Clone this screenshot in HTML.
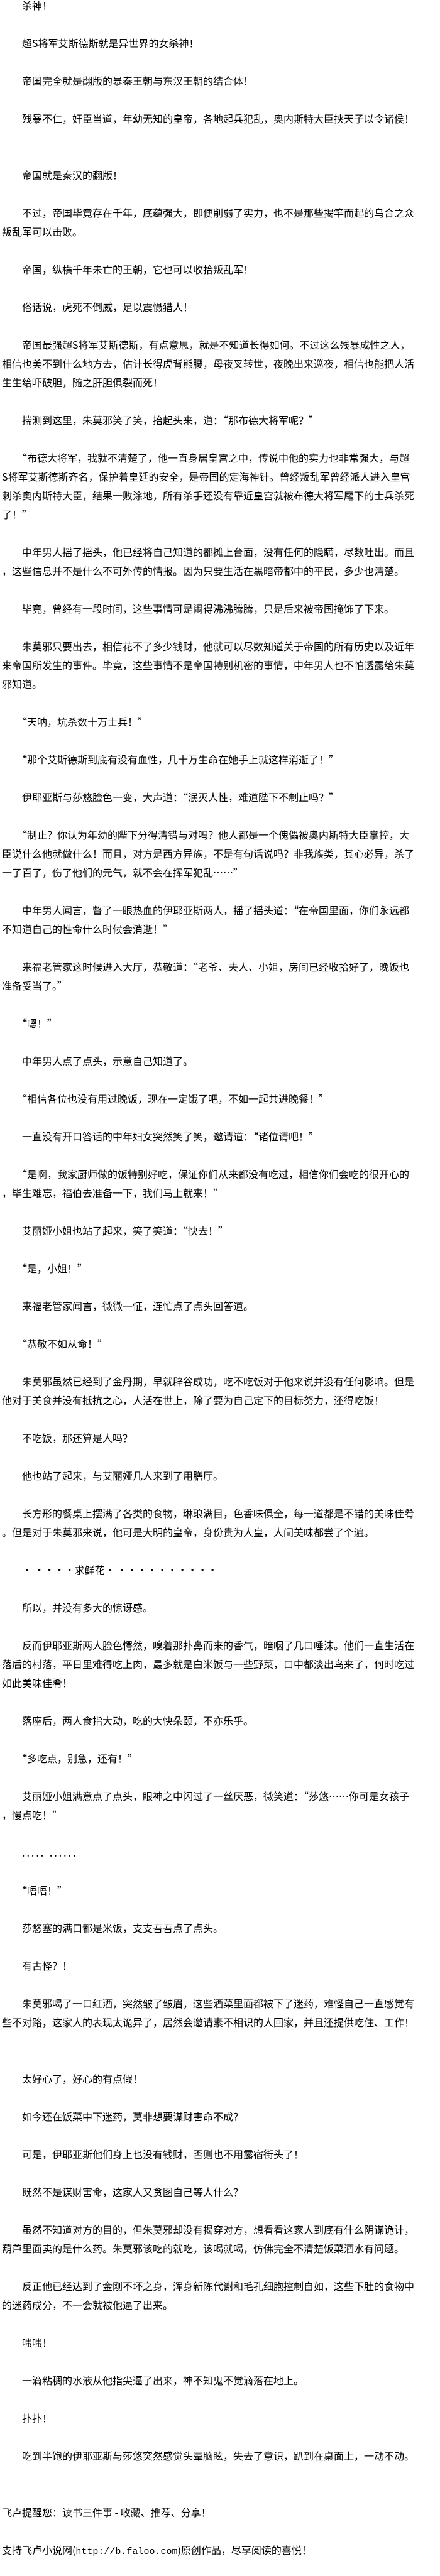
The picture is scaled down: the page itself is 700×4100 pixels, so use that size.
<!DOCTYPE html>
<html><head><meta charset="utf-8">
<style>
html,body{margin:0;padding:0;background:#fff;}
body{width:700px;height:4100px;overflow:hidden;position:relative;}
pre{position:absolute;left:3px;top:-7px;margin:0;font-family:"Noto Sans CJK SC","WenQuanYi Zen Hei",sans-serif;font-size:16px;line-height:30px;color:#000;white-space:pre;}
.m{font-family:"Liberation Mono",monospace;font-size:15px;}
</style></head><body>
<pre>　　杀神！

　　超S将军艾斯德斯就是异世界的女杀神！

　　帝国完全就是翻版的暴秦王朝与东汉王朝的结合体！

　　残暴不仁，奸臣当道，年幼无知的皇帝，各地起兵犯乱，奥内斯特大臣挟天子以令诸侯！


　　帝国就是秦汉的翻版！

　　不过，帝国毕竟存在千年，底蕴强大，即便削弱了实力，也不是那些揭竿而起的乌合之众
叛乱军可以击败。

　　帝国，纵横千年未亡的王朝，它也可以收拾叛乱军！

　　俗话说，虎死不倒威，足以震慑猎人！

　　帝国最强超S将军艾斯德斯，有点意思，就是不知道长得如何。不过这么残暴成性之人，
相信也美不到什么地方去，估计长得虎背熊腰，母夜叉转世，夜晚出来巡夜，相信也能把人活
生生给吓破胆，随之肝胆俱裂而死！

　　揣测到这里，朱莫邪笑了笑，抬起头来，道：“那布德大将军呢？”

　　“布德大将军，我就不清楚了，他一直身居皇宫之中，传说中他的实力也非常强大，与超
S将军艾斯德斯齐名，保护着皇廷的安全，是帝国的定海神针。曾经叛乱军曾经派人进入皇宫
刺杀奥内斯特大臣，结果一败涂地，所有杀手还没有靠近皇宫就被布德大将军麾下的士兵杀死
了！”

　　中年男人摇了摇头，他已经将自己知道的都摊上台面，没有任何的隐瞒，尽数吐出。而且
，这些信息并不是什么不可外传的情报。因为只要生活在黑暗帝都中的平民，多少也清楚。

　　毕竟，曾经有一段时间，这些事情可是闹得沸沸腾腾，只是后来被帝国掩饰了下来。

　　朱莫邪只要出去，相信花不了多少钱财，他就可以尽数知道关于帝国的所有历史以及近年
来帝国所发生的事件。毕竟，这些事情不是帝国特别机密的事情，中年男人也不怕透露给朱莫
邪知道。

　　“天呐，坑杀数十万士兵！”

　　“那个艾斯德斯到底有没有血性，几十万生命在她手上就这样消逝了！”

　　伊耶亚斯与莎悠脸色一变，大声道：“泯灭人性，难道陛下不制止吗？”

　　“制止？你认为年幼的陛下分得清错与对吗？他人都是一个傀儡被奥内斯特大臣掌控，大
臣说什么他就做什么！而且，对方是西方异族，不是有句话说吗？非我族类，其心必异，杀了
一了百了，伤了他们的元气，就不会在挥军犯乱……”

　　中年男人闻言，瞥了一眼热血的伊耶亚斯两人，摇了摇头道：“在帝国里面，你们永远都
不知道自己的性命什么时候会消逝！”

　　来福老管家这时候进入大厅，恭敬道：“老爷、夫人、小姐，房间已经收拾好了，晚饭也
准备妥当了。”

　　“嗯！”

　　中年男人点了点头，示意自己知道了。

　　“相信各位也没有用过晚饭，现在一定饿了吧，不如一起共进晚餐！”

　　一直没有开口答话的中年妇女突然笑了笑，邀请道：“诸位请吧！”

　　“是啊，我家厨师做的饭特别好吃，保证你们从来都没有吃过，相信你们会吃的很开心的
，毕生难忘，福伯去准备一下，我们马上就来！”

　　艾丽娅小姐也站了起来，笑了笑道：“快去！”

　　“是，小姐！”

　　来福老管家闻言，微微一怔，连忙点了点头回答道。

　　“恭敬不如从命！”

　　朱莫邪虽然已经到了金丹期，早就辟谷成功，吃不吃饭对于他来说并没有任何影响。但是
他对于美食并没有抵抗之心，人活在世上，除了要为自己定下的目标努力，还得吃饭！

　　不吃饭，那还算是人吗？

　　他也站了起来，与艾丽娅几人来到了用膳厅。

　　长方形的餐桌上摆满了各类的食物，琳琅满目，色香味俱全，每一道都是不错的美味佳肴
。但是对于朱莫邪来说，他可是大明的皇帝，身份贵为人皇，人间美味都尝了个遍。

　　· ····求鲜花· ··········

　　所以，并没有多大的惊讶感。

　　反而伊耶亚斯两人脸色愕然，嗅着那扑鼻而来的香气，暗咽了几口唾沫。他们一直生活在
落后的村落，平日里难得吃上肉，最多就是白米饭与一些野菜，口中都淡出鸟来了，何时吃过
如此美味佳肴！

　　落座后，两人食指大动，吃的大快朵颐，不亦乐乎。

　　“多吃点，别急，还有！”

　　艾丽娅小姐满意点了点头，眼神之中闪过了一丝厌恶，微笑道：“莎悠……你可是女孩子
，慢点吃！”

　　<span style="letter-spacing:3px">..... ......</span>

　　“唔唔！”

　　莎悠塞的满口都是米饭，支支吾吾点了点头。

　　有古怪？！

　　朱莫邪喝了一口红酒，突然皱了皱眉，这些酒菜里面都被下了迷药，难怪自己一直感觉有
些不对路，这家人的表现太诡异了，居然会邀请素不相识的人回家，并且还提供吃住、工作！


　　太好心了，好心的有点假！

　　如今还在饭菜中下迷药，莫非想要谋财害命不成？

　　可是，伊耶亚斯他们身上也没有钱财，否则也不用露宿街头了！

　　既然不是谋财害命，这家人又贪图自己等人什么？

　　虽然不知道对方的目的，但朱莫邪却没有揭穿对方，想看看这家人到底有什么阴谋诡计，
葫芦里面卖的是什么药。朱莫邪该吃的就吃，该喝就喝，仿佛完全不清楚饭菜酒水有问题。

　　反正他已经达到了金刚不坏之身，浑身新陈代谢和毛孔细胞控制自如，这些下肚的食物中
的迷药成分，不一会就被他逼了出来。

　　嗤嗤！

　　一滴粘稠的水液从他指尖逼了出来，神不知鬼不觉滴落在地上。

　　扑扑！

　　吃到半饱的伊耶亚斯与莎悠突然感觉头晕脑眩，失去了意识，趴到在桌面上，一动不动。


飞卢提醒您：读书三件事 - 收藏、推荐、分享！

支持飞卢小说网(<span class="m">http://b.faloo.com</span>)原创作品，尽享阅读的喜悦！</pre>
</body></html>
